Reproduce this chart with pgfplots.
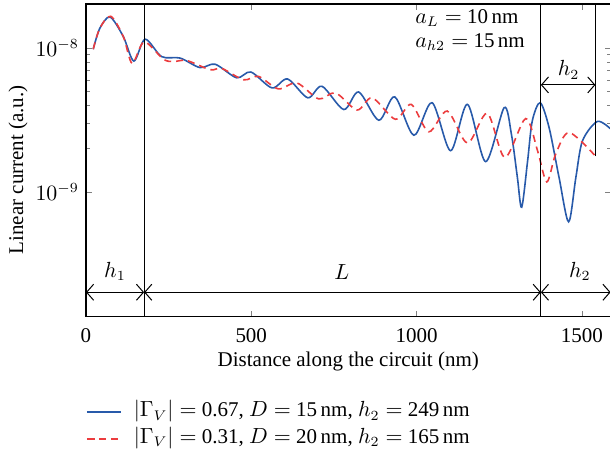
\documentclass[border=0pt]{standalone}
\usepackage{fontspec}
\setmainfont{Liberation Serif}
\usepackage{pgfplots}
\pgfplotsset{compat=1.18}
\usetikzlibrary{arrows.meta}
\definecolor{cblue}{RGB}{40,90,170}
\definecolor{cred}{RGB}{236,60,62}
\begin{document}
\begin{tikzpicture}[font=\fontsize{10.5}{12.6}\selectfont]
\begin{axis}[name=ax, scale only axis, width=262.5pt, height=156.5pt,
  xmin=0, xmax=1587, ymode=log, ymin=1.35e-10, ymax=2.02e-8,
  xtick={0,500,1000,1500}, ytick={1e-9,1e-8},
  xticklabel style={yshift=-2.5pt, /pgf/number format/assume math mode=true, /pgf/number format/1000 sep={}},
  axis line style={line width=0.6pt},
  major tick length=3pt, minor tick length=2pt,
  xlabel={Distance along the circuit (nm)},
  ylabel={Linear current (a.u.)},
  xlabel style={at={(axis description cs:0.5,-0.144)}, anchor=center},
  ylabel style={at={(axis description cs:-0.1295,0.47)}, anchor=center},
  legend style={at={(axis description cs:0,-0.262)}, anchor=north west, draw=none, fill=none,
    inner sep=0pt, outer sep=0pt, row sep=0pt,
    nodes={inner sep=0pt, text height=9pt, text depth=4.5pt, anchor=west},
    /tikz/every odd column/.append style={column sep=6pt}},
  legend cell align=left,
  every legend image post/.style={line width=0.9pt},
]
\addplot[cblue, line width=0.8pt, smooth] coordinates {
(22,9.8e-9) (42,1.37e-8) (73,1.64e-8) (113,1.2e-8) (145,8.1e-9) (179,1.15e-8)
(229,8.7e-9) (285,8.5e-9) (345,7.3e-9) (391,7.7e-9) (456,6.2e-9) (499,6.8e-9)
(563,5.27e-9) (610,6.08e-9) (671,4.5e-9) (714,5.41e-9) (780,3.73e-9) (825,4.94e-9)
(886,3.14e-9) (934,4.57e-9) (992,2.47e-9) (1047,4.16e-9) (1103,1.93e-9) (1154,4.05e-9)
(1209,1.62e-9) (1265,3.84e-9) (1287,2.51e-9) (1305,1.26e-9) (1318,7.8e-10) (1336,1.64e-9)
(1350,3.1e-9) (1374,4.16e-9) (1401,2.79e-9) (1431,1.26e-9) (1460,6.18e-10) (1482,1.26e-9)
(1502,2.26e-9) (1547,3.08e-9) (1588,2.72e-9)
};
\addlegendentry{$|\Gamma_V| =$ 0.67, $D =$ 15\,nm, $h_2 =$ 249\,nm}
\addplot[cred, line width=0.8pt, smooth, dash pattern=on 3.5pt off 2.5pt] coordinates {
(22,9.8e-9) (42,1.37e-8) (75,1.66e-8) (113,1.2e-8) (140,7.8e-9) (176,1.1e-8)
(234,8.35e-9) (265,8.04e-9) (305,8.17e-9) (376,7.05e-9) (411,7.2e-9) (477,6.0e-9)
(522,6.34e-9) (582,5.19e-9) (638,5.71e-9) (704,4.42e-9) (755,4.87e-9) (820,3.7e-9)
(866,4.5e-9) (936,3.19e-9) (984,4.05e-9) (1037,2.61e-9) (1093,3.64e-9) (1154,2.18e-9)
(1214,3.51e-9) (1267,1.73e-9) (1330,3.23e-9) (1366,1.93e-9) (1394,1.17e-9) (1421,1.83e-9)
(1462,2.58e-9) (1545,1.73e-9)
};
\addlegendentry{$|\Gamma_V| =$ 0.31, $D =$ 20\,nm, $h_2 =$ 165\,nm}
% annotation lines
\draw[black, line width=0.5pt] (axis cs:176,1.35e-10) -- (axis cs:176,2.02e-8);
\draw[black, line width=0.5pt] (axis cs:1376,1.35e-10) -- (axis cs:1376,2.02e-8);
\draw[black, line width=0.5pt] (axis cs:1541,1.76e-9) -- (axis cs:1541,2.02e-8);
\draw[black, line width=0.5pt, {Straight Barb[length=3.5pt,width=8pt]}-{Straight Barb[length=3.5pt,width=8pt]}] (axis cs:0,2e-10) -- (axis cs:176,2e-10);
\draw[black, line width=0.5pt, {Straight Barb[length=3.5pt,width=8pt]}-{Straight Barb[length=3.5pt,width=8pt]}] (axis cs:176,2e-10) -- (axis cs:1376,2e-10);
\draw[black, line width=0.5pt, {Straight Barb[length=3.5pt,width=8pt]}-{Straight Barb[length=3.5pt,width=8pt]}] (axis cs:1376,2e-10) -- (axis cs:1587,2e-10);
\draw[black, line width=0.5pt, {Straight Barb[length=3.5pt,width=8pt]}-{Straight Barb[length=3.5pt,width=8pt]}] (axis cs:1376,5.53e-9) -- (axis cs:1541,5.53e-9);
\node at (axis cs:88,2.78e-10) {$h_1$};
\node at (axis cs:774,2.78e-10) {$L$};
\node at (axis cs:1494,2.78e-10) {$h_2$};
\node at (axis cs:1460,7.03e-9) {$h_2$};
\node[anchor=west, inner sep=0pt] at (axis cs:995,1.62e-8) {$a_L =$ 10\,nm};
\node[anchor=west, inner sep=0pt] at (axis cs:995,1.1e-8) {$a_{h2} =$ 15\,nm};
\end{axis}
\pgfresetboundingbox
\path[use as bounding box] ([xshift=-43pt,yshift=-67pt]ax.south west) rectangle ([xshift=-0.3pt,yshift=2pt]ax.north east);
\end{tikzpicture}
\end{document}
